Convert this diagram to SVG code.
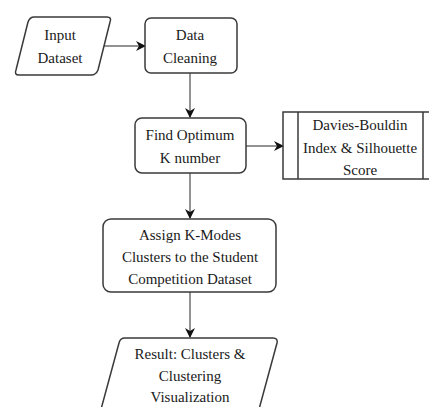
<svg xmlns="http://www.w3.org/2000/svg" width="429" height="407" viewBox="0 0 429 407">
<style>
.n{fill:#fff;stroke:#3a3a3a;stroke-width:1.5}
.t{font-family:'Liberation Serif','DejaVu Serif',serif;font-size:15px;fill:#1a1a1a;text-anchor:middle}
.c{fill:none;stroke:#6e6e6e;stroke-width:1.5}
</style>
<defs>
<marker id="ah" markerWidth="10" markerHeight="10" refX="9" refY="5" orient="auto" markerUnits="userSpaceOnUse">
<path d="M0,0 L10,5 L0,10 L3,5 Z" fill="#111"/>
</marker>
</defs>
<rect width="429" height="407" fill="#fff"/>
<g id="connectors">
<line class="c" x1="102" y1="46" x2="145" y2="46" marker-end="url(#ah)"/>
<line class="c" x1="190" y1="73" x2="190" y2="117" marker-end="url(#ah)"/>
<line class="c" x1="246" y1="146" x2="283" y2="146" marker-end="url(#ah)"/>
<line class="c" x1="190" y1="173" x2="190" y2="218" marker-end="url(#ah)"/>
<line class="c" x1="190" y1="292" x2="190" y2="337" marker-end="url(#ah)"/>
</g>
<g id="input">
<path class="n" d="M34,17 L107,17 Q112,17 110,22 L98,70 Q96,75 91,75 L19,75 Q14,75 16,70 L28,22 Q30,17 34,17 Z"/>
<text class="t" x="60" y="40" font-family="Liberation Serif, serif">Input</text>
<text class="t" x="60" y="63" font-family="Liberation Serif, serif">Dataset</text>
</g>
<g id="cleaning">
<rect class="n" x="145" y="18" width="92" height="55" rx="6"/>
<text class="t" x="190" y="40">Data</text>
<text class="t" x="190" y="63">Cleaning</text>
</g>
<g id="findk">
<rect class="n" x="135" y="118" width="111" height="55" rx="7"/>
<text class="t" x="190" y="140">Find Optimum</text>
<text class="t" x="190" y="163">K number</text>
</g>
<g id="metric">
<rect class="n" x="283" y="112" width="155" height="67"/>
<line class="n" x1="298" y1="112" x2="298" y2="179"/>
<line class="n" x1="423" y1="112" x2="423" y2="179"/>
<text class="t" x="360" y="130">Davies-Bouldin</text>
<text class="t" x="360" y="153">Index &amp; Silhouette</text>
<text class="t" x="360" y="175">Score</text>
</g>
<g id="assign">
<rect class="n" x="103" y="219" width="173" height="73" rx="8"/>
<text class="t" x="190" y="240">Assign K-Modes</text>
<text class="t" x="190" y="262">Clusters to the Student</text>
<text class="t" x="190" y="284">Competition Dataset</text>
</g>
<g id="result">
<path class="n" d="M125,338 L273,338 Q278,338 277,343 L258,413 Q257,418 252,418 L104,418 Q99,418 100,413 L119,343 Q120,338 125,338 Z"/>
<text class="t" x="190" y="359">Result: Clusters &amp;</text>
<text class="t" x="190" y="381">Clustering</text>
<text class="t" x="190" y="402">Visualization</text>
</g>
</svg>
